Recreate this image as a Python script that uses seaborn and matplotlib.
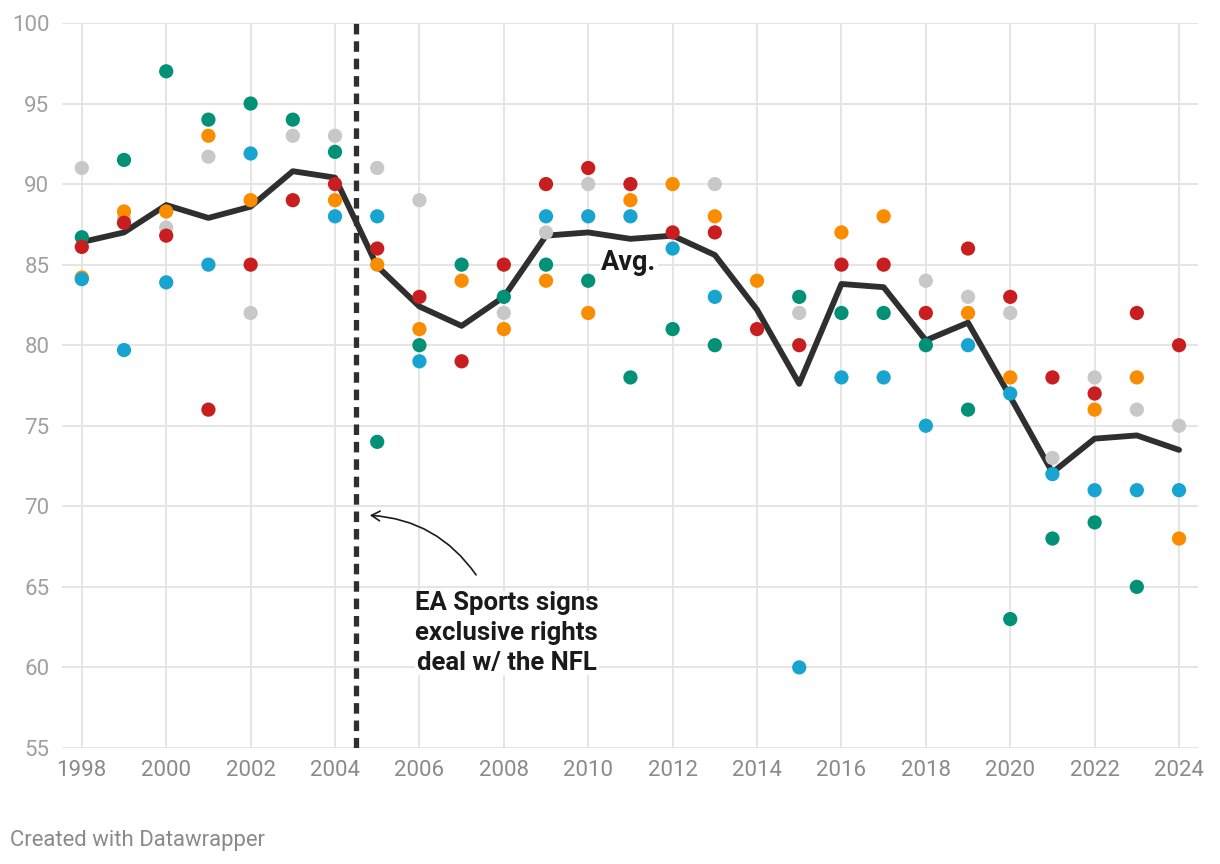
import numpy as np
import pandas as pd
import matplotlib.pyplot as plt
import seaborn as sns

#-------------------------------------------------------------------------------------
# Data (NaN = no dot for that year)
years = list(range(1998, 2025))

gray   = [91, 87.9, 87.3, 91.7, 82, 93, 93, 91, 89, np.nan, 82, 87, 90, np.nan, np.nan,
          90, np.nan, 82, np.nan, np.nan, 84, 83, 82, 73, 78, 76, 75]
orange = [84.2, 88.3, 88.3, 93, 89, np.nan, 89, 85, 81, 84, 81, 84, 82, 89, 90,
          88, 84, np.nan, 87, 88, np.nan, 82, 78, np.nan, 76, 78, 68]
green  = [86.7, 91.5, 97, 94, 95, 94, 92, 74, 80, 85, 83, 85, 84, 78, 81,
          80, np.nan, 83, 82, 82, 80, 76, 63, 68, 69, 65, np.nan]
blue   = [84.1, 79.7, 83.9, 85, 91.9, np.nan, 88, 88, 79, np.nan, np.nan, 88, 88, 88, 86,
          83, np.nan, 60, 78, 78, 75, 80, 77, 72, 71, 71, 71]
red    = [86.1, 87.6, 86.8, 76, 85, 89, 90, 86, 83, 79, 85, 90, 91, 90, 87,
          87, 81, 80, 85, 85, 82, 86, 83, 78, 77, 82, 80]

avg = [86.4, 87.0, 88.7, 87.9, 88.6, 90.8, 90.4, 84.9, 82.4, 81.2, 83.0, 86.8, 87.0, 86.6, 86.8,
       85.6, 82.2, 77.6, 83.8, 83.6, 80.3, 81.4, 76.8, 72.1, 74.2, 74.4, 73.5]

series_names = ["gray", "orange", "green", "blue", "red"]
series_colors = ["#c8c8c8", "#fa8c00", "#009177", "#18a4d0", "#c91e1f"]

x_ticks = list(range(1998, 2025, 2))
y_ticks = list(range(55, 101, 5))

df_dots = pd.DataFrame({"year": years, "gray": gray, "orange": orange,
                        "green": green, "blue": blue, "red": red})
df_dots = df_dots.melt(id_vars="year", var_name="series", value_name="score").dropna()
df_avg = pd.DataFrame({"year": years, "avg": avg})

#-------------------------------------------------------------------------------------
# Figure
sns.set_style("white")
plt.rcParams['font.family'] = ['Roboto', 'DejaVu Sans']

fig, ax = plt.subplots(figsize=(12.2, 8.64), dpi=100)
fig.subplots_adjust(left=0.0508, right=0.982, bottom=0.1343, top=0.9734)

# Gridlines
for yv in y_ticks:
    ax.axhline(yv, color="#e3e3e3", lw=1.3, zorder=0)
for xv in x_ticks:
    ax.axvline(xv, color="#e3e3e3", lw=1.3, zorder=0)

# Average line
sns.lineplot(data=df_avg, x="year", y="avg", color="#2f2f2f", lw=4.2,
             ax=ax, zorder=2, legend=False)

# Dots
sns.scatterplot(data=df_dots, x="year", y="score", hue="series",
                hue_order=series_names, palette=series_colors,
                s=105, linewidth=0, ax=ax, zorder=3, legend=False)

# Vertical dashed marker
ax.axvline(2004.5, color="#2f2f2f", lw=3.8, dashes=(2.0, 1.3), zorder=4)

# Annotations
ax.text(2010.96, 85.15, "Avg.", fontsize=19.5, fontweight="bold", color="#1a1a1a",
        ha="center", va="center", zorder=5,
        bbox=dict(facecolor="white", edgecolor="none", pad=1))
ax.text(2008.07, 64.75, "EA Sports signs\nexclusive rights\ndeal w/ the NFL",
        fontsize=18.5, fontweight="bold", color="#1a1a1a", ha="center", va="top",
        linespacing=1.32, zorder=5,
        bbox=dict(facecolor="white", edgecolor="none", pad=0))
ax.annotate("", xy=(2004.76, 69.45), xytext=(2007.38, 65.6),
            arrowprops=dict(arrowstyle="->,head_length=0.6,head_width=0.35",
                            color="#1a1a1a", lw=1.2,
                            connectionstyle="arc3,rad=0.25"), zorder=5)

# Axes
ax.set_xlim(1997.53, 2024.45)
ax.set_ylim(55, 100)
ax.set_xticks(x_ticks)
ax.set_yticks(y_ticks)
ax.set_xlabel("")
ax.set_ylabel("")
ax.tick_params(axis="x", labelsize=16, colors="#8a8a8a", length=0, pad=9)
ax.tick_params(axis="y", labelsize=16, colors="#a0a0a0", length=0, pad=9)
sns.despine(ax=ax, left=True, bottom=True)

# Footer
fig.text(0.008, 0.027, "Created with Datawrapper", fontsize=15.9, color="#8a8a8a",
         ha="left", va="center")

plt.savefig("out.png", dpi=100)
